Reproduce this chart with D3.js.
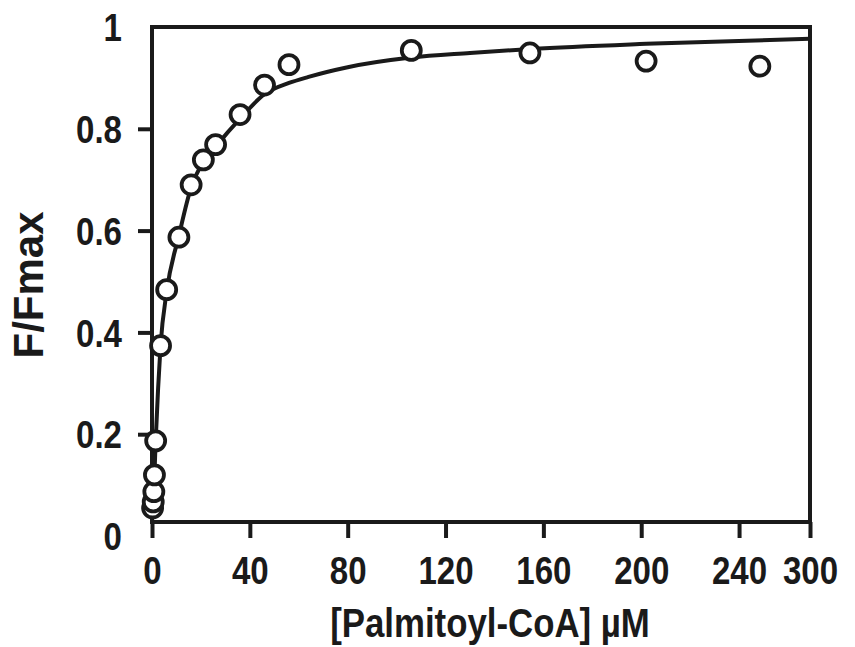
<!DOCTYPE html>
<html>
<head>
<meta charset="utf-8">
<script src="https://cdn.jsdelivr.net/npm/d3@7"></script>
<style>
  html, body { margin: 0; padding: 0; background: #fff; }
  svg { display: block; }
  text { font-family: "Liberation Sans", Arial, Helvetica, sans-serif; font-weight: bold; fill: #1a1a1a; }
</style>
</head>
<body>
<svg id="chart" width="855" height="647"></svg>
<script>
// ---- data ----
const concX = [0.25, 0.5, 0.75, 1, 1.5, 3.5, 6, 11, 16, 21, 26, 36, 46, 56, 106, 154.5, 202, 248.5];
const ratioY = [0.055, 0.067, 0.087, 0.12, 0.187, 0.374, 0.484, 0.587, 0.69, 0.739, 0.769, 0.828, 0.886, 0.926, 0.954, 0.949, 0.933, 0.923];

const fitX = [0, 0.5, 1, 1.5, 2.5, 3.5, 6, 11, 16, 21, 26, 36, 46, 56, 64, 80, 106, 130, 155, 202, 269];
const fitY = [0.045, 0.066, 0.12, 0.187, 0.29, 0.374, 0.48, 0.59, 0.685, 0.735, 0.765, 0.82, 0.868, 0.89, 0.902, 0.921, 0.94, 0.949, 0.957, 0.967, 0.977];

const xTickValues = [0, 40, 80, 120, 160, 200, 240, 269];
const xTickLabels = ["0", "40", "80", "120", "160", "200", "240", "300"];
const yTickValues = [0, 0.2, 0.4, 0.6, 0.8, 1];
const yTickLabels = ["0", "0.2", "0.4", "0.6", "0.8", "1"];

const xTitle = "[Palmitoyl-CoA] \u00b5M";
const yTitle = "F/Fmax";

// ---- layout ----
const svg = d3.select("#chart");
svg.append("rect").attr("width", 855).attr("height", 647).attr("fill", "#fff");

const ink = "#1a1a1a";
const plotL = 152, plotR = 810, plotT = 27, y0px = 536;
const x = d3.scaleLinear().domain([0, 269]).range([plotL, plotR]);
const y = d3.scaleLinear().domain([0, 1]).range([y0px, plotT]);
const axisY = 522;   // where the x axis line sits
const sx = 0.87;     // horizontal condensing of the text

// y axis
const gy = svg.append("g").attr("transform", `translate(${plotL},0)`)
  .call(d3.axisLeft(y).tickValues(yTickValues).tickSize(14)
        .tickFormat((d, i) => yTickLabels[i]));
gy.select(".domain").remove();
gy.selectAll(".tick line").attr("stroke", ink).attr("stroke-width", 4)
  .attr("opacity", d => (d === 0 || d === 1) ? 0 : 1);
gy.selectAll(".tick text")
  .attr("font-size", 38).attr("fill", ink)
  .attr("x", -30 / sx).attr("dy", "0.36em")
  .attr("transform", `scale(${sx},1)`);

// x axis
const gx = svg.append("g").attr("transform", `translate(0,${axisY})`)
  .call(d3.axisBottom(x).tickValues(xTickValues).tickSize(16)
        .tickFormat((d, i) => xTickLabels[i]));
gx.select(".domain").remove();
gx.selectAll(".tick line").attr("stroke", ink).attr("stroke-width", 4);
gx.selectAll(".tick text")
  .attr("font-size", 38).attr("fill", ink)
  .attr("y", 62).attr("dy", 0)
  .attr("transform", `scale(${sx},1)`);

// frame lines
const frame = svg.append("g").attr("stroke", ink).attr("stroke-width", 4).attr("fill", "none");
frame.append("line").attr("x1", plotL).attr("x2", plotL).attr("y1", plotT - 2).attr("y2", axisY);
frame.append("line").attr("x1", plotL - 2).attr("x2", plotR + 2).attr("y1", plotT).attr("y2", plotT);
frame.append("line").attr("x1", plotR).attr("x2", plotR).attr("y1", plotT - 2).attr("y2", axisY);
frame.append("line").attr("x1", plotL - 2).attr("x2", plotR + 2).attr("y1", axisY).attr("y2", axisY);

// fitted curve
const fit = fitX.map((d, i) => [d, fitY[i]]);
svg.append("path")
  .datum(fit)
  .attr("fill", "none").attr("stroke", ink).attr("stroke-width", 4)
  .attr("stroke-linejoin", "round")
  .attr("d", d3.line().x(d => x(d[0])).y(d => y(d[1])).curve(d3.curveMonotoneX));

// data points
const pts = concX.map((d, i) => [d, ratioY[i]]);
svg.append("g").selectAll("circle").data(pts).join("circle")
  .attr("cx", d => x(d[0])).attr("cy", d => y(d[1])).attr("r", 9.5)
  .attr("fill", "#fff").attr("stroke", ink).attr("stroke-width", 3.8);

// axis titles
svg.append("text")
  .attr("transform", `translate(490,637) scale(${sx},1)`)
  .attr("text-anchor", "middle").attr("font-size", 40)
  .text(xTitle);

svg.append("text")
  .attr("transform", "translate(43,285) rotate(-90)")
  .attr("text-anchor", "middle").attr("font-size", 42)
  .text(yTitle);
</script>
</body>
</html>
